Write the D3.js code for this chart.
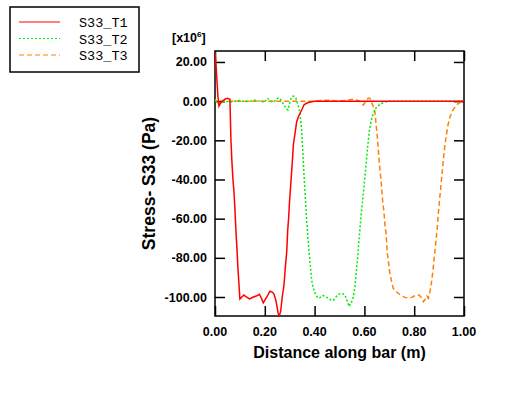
<!DOCTYPE html>
<html>
<head>
<meta charset="utf-8">
<script src="https://cdn.jsdelivr.net/npm/d3@7"></script>
<style>
    body { margin: 0; background: #fff; }
    svg { display: block; }
    .tick-label { font-family: "Liberation Sans", Arial, sans-serif; font-weight: bold; font-size: 12.5px; }
    .titulo { font-family: "Liberation Sans", Arial, sans-serif; font-weight: bold; font-size: 16px; }
    .legenda { font-family: "Liberation Mono", "DejaVu Sans Mono", monospace; font-size: 13.5px; }
</style>
</head>
<body>
<div id="grafico"></div>
<script>
// Valores em x10^6 Pa
const xT1 = [0, 0.004, 0.008, 0.012, 0.016, 0.02, 0.03, 0.04, 0.05, 0.06, 0.064, 0.068, 0.072, 0.076, 0.08, 0.084, 0.088, 0.092, 0.096, 0.1, 0.108, 0.116, 0.126, 0.138, 0.146, 0.154, 0.166, 0.178, 0.186, 0.194, 0.208, 0.221, 0.23, 0.237, 0.243, 0.248, 0.253, 0.258, 0.264, 0.27, 0.277, 0.283, 0.288, 0.292, 0.296, 0.3, 0.304, 0.31, 0.315, 0.322, 0.328, 0.335, 0.341, 0.35, 0.357, 0.366, 0.375, 0.39, 0.4, 0.5, 0.6, 0.7, 0.8, 0.9, 1.0];
const yT1 = [25, 19, 10, 2, -2.5, -1.5, 0, 1, 1.5, 1, -20, -31, -40, -46, -55, -66, -75, -85, -93, -101, -100, -99, -100, -101, -100.5, -100, -99.5, -98.6, -100.5, -103, -100, -97, -97.5, -98.5, -101, -104, -108, -110, -107, -100, -94, -84, -77, -66, -59, -50, -43, -32, -22, -16, -10.5, -8, -6.3, -4, -2, -1.2, -0.7, -0.3, 0, 0, 0, 0, 0, 0, 0];

const xT2 = [0, 0.02, 0.04, 0.06, 0.08, 0.1, 0.12, 0.14, 0.16, 0.18, 0.2, 0.21, 0.22, 0.23, 0.24, 0.25, 0.26, 0.27, 0.28, 0.287, 0.293, 0.3, 0.306, 0.312, 0.318, 0.325, 0.331, 0.336, 0.341, 0.348, 0.355, 0.361, 0.368, 0.375, 0.382, 0.388, 0.395, 0.402, 0.41, 0.419, 0.428, 0.435, 0.445, 0.455, 0.465, 0.475, 0.482, 0.489, 0.498, 0.509, 0.516, 0.522, 0.529, 0.535, 0.539, 0.546, 0.553, 0.558, 0.562, 0.566, 0.569, 0.573, 0.576, 0.581, 0.585, 0.59, 0.596, 0.601, 0.606, 0.611, 0.616, 0.62, 0.625, 0.63, 0.636, 0.642, 0.649, 0.659, 0.669, 0.679, 0.689, 0.7, 0.8, 0.9, 1.0];
const yT2 = [0, -1, 0, -0.5, 0, 0.3, -0.3, 0, 0.5, 0, -0.5, 1.5, 0.5, -0.5, 0, 1.5, 1.5, -0.5, -2.5, -4, -4.5, -1, 1.5, 2.5, 2.5, 1.5, -1, -3, -6.3, -14.8, -31.8, -45.4, -60.7, -72.6, -82.8, -91.3, -95.5, -98.1, -100, -100.7, -99.5, -99.3, -100, -100.5, -101.5, -101.7, -100.5, -99.5, -98.5, -98.1, -98.5, -99, -101.5, -103.5, -104.9, -103, -101.5, -98, -94.7, -89, -84.5, -80, -74.3, -67, -60.7, -54, -47.1, -40, -33.5, -26, -19.9, -15, -11.4, -8.5, -6.3, -4.5, -2.9, -2, -1.2, -0.6, -0.3, 0, 0, 0, 0];

const xT3 = [0, 0.01, 0.02, 0.03, 0.05, 0.1, 0.15, 0.2, 0.25, 0.3, 0.35, 0.4, 0.45, 0.5, 0.53, 0.56, 0.58, 0.596, 0.605, 0.615, 0.622, 0.63, 0.636, 0.64, 0.643, 0.647, 0.652, 0.656, 0.66, 0.665, 0.669, 0.673, 0.679, 0.683, 0.687, 0.692, 0.696, 0.7, 0.703, 0.709, 0.716, 0.726, 0.736, 0.75, 0.763, 0.776, 0.79, 0.8, 0.81, 0.82, 0.83, 0.837, 0.845, 0.851, 0.857, 0.862, 0.867, 0.872, 0.877, 0.882, 0.888, 0.893, 0.897, 0.902, 0.907, 0.912, 0.917, 0.922, 0.928, 0.936, 0.944, 0.954, 0.964, 0.974, 0.984, 0.992, 1.0];
const yT3 = [1, -0.8, 0.3, 0, 0, 0, 0, 0, 0, 0, 0, 0, 0.5, 0, 0.5, 1, 0, -2, 0, 1.5, 1.5, -1, -2.9, -4, -6.3, -12, -18.2, -25, -31.8, -38, -43.7, -50.5, -57.3, -64.1, -67.5, -77.7, -81.1, -86, -88, -92, -95.6, -97, -98.1, -99.5, -100.2, -100.5, -100.2, -99.5, -99, -99, -100.5, -102.4, -101, -99.5, -100.7, -98, -94.7, -90, -84.5, -78, -70.9, -64, -57.3, -50, -43.7, -37, -30.1, -24, -18.2, -12, -8, -5, -2.9, -1.5, -0.7, -0.3, 0];

const nomesSeries = ["S33_T1", "S33_T2", "S33_T3"];
const xTicks = [0, 0.2, 0.4, 0.6, 0.8, 1.0];
const yTicks = [20, 0, -20, -40, -60, -80, -100];

const series = [
    { nome: nomesSeries[0], xs: xT1, ys: yT1, cor: "#ff0000", dash: null },
    { nome: nomesSeries[1], xs: xT2, ys: yT2, cor: "#00ee00", dash: "2,2" },
    { nome: nomesSeries[2], xs: xT3, ys: yT3, cor: "#ff8000", dash: "5,3" }
];

const width = 529;
const height = 397;
const esq = 215, dir = 464, topo = 51, base = 316;

const svg = d3.select("#grafico")
    .append("svg")
    .attr("width", width)
    .attr("height", height);

const x = d3.scaleLinear().domain([0, 1]).range([esq, dir]);
const y = d3.scaleLinear().domain([-109.7, 25.6]).range([base, topo]);

// Recorte da area do grafico
svg.append("clipPath").attr("id", "area")
    .append("rect")
    .attr("x", esq).attr("y", topo)
    .attr("width", dir - esq).attr("height", base - topo);

// Eixos com ticks para dentro
const eixoBase = d3.axisTop(x).tickValues(xTicks).tickSize(10).tickFormat("");
const eixoTopo = d3.axisBottom(x).tickValues(xTicks).tickSize(10).tickFormat("");
const eixoEsq = d3.axisRight(y).tickValues(yTicks).tickSize(10).tickFormat("");
const eixoDir = d3.axisLeft(y).tickValues(yTicks).tickSize(10).tickFormat("");

[
    [eixoBase, `translate(0,${base})`],
    [eixoTopo, `translate(0,${topo})`],
    [eixoEsq, `translate(${esq},0)`],
    [eixoDir, `translate(${dir},0)`]
].forEach(([eixo, t]) => {
    const g = svg.append("g").attr("transform", t).call(eixo);
    g.select(".domain").remove();
    g.selectAll("line").attr("stroke", "#000").attr("stroke-width", 1.5);
});

// Moldura
svg.append("rect")
    .attr("x", esq).attr("y", topo)
    .attr("width", dir - esq).attr("height", base - topo)
    .attr("fill", "none")
    .attr("stroke", "#000")
    .attr("stroke-width", 1.5);

// Rotulos dos ticks
svg.selectAll(".xlab")
    .data(xTicks)
    .enter()
    .append("text")
    .attr("class", "tick-label")
    .attr("x", d => x(d))
    .attr("y", 336)
    .attr("text-anchor", "middle")
    .text(d => d.toFixed(2));

svg.selectAll(".ylab")
    .data(yTicks)
    .enter()
    .append("text")
    .attr("class", "tick-label")
    .attr("x", 207)
    .attr("y", d => y(d) + 4.5)
    .attr("text-anchor", "end")
    .text(d => d.toFixed(2));

// Fator de escala
const fator = svg.append("text")
    .attr("class", "tick-label")
    .attr("x", 172)
    .attr("y", 42);
fator.append("tspan").text("[x10");
fator.append("tspan").attr("dy", -5).style("font-size", "8px").text("6");
fator.append("tspan").attr("dy", 5).text("]");

// Titulos
svg.append("text")
    .attr("class", "titulo")
    .attr("x", (esq + dir) / 2)
    .attr("y", 358)
    .attr("text-anchor", "middle")
    .text("Distance along bar (m)");

svg.append("text")
    .attr("class", "titulo")
    .style("font-size", "17.5px")
    .attr("transform", `translate(155,${(topo + base) / 2}) rotate(-90)`)
    .attr("text-anchor", "middle")
    .text("Stress- S33 (Pa)");

// Curvas
const linha = d3.line()
    .x(d => x(d[0]))
    .y(d => y(d[1]));

const grupoLinhas = svg.append("g").attr("clip-path", "url(#area)");

series.slice().reverse().forEach(s => {
    grupoLinhas.append("path")
        .datum(s.xs.map((v, i) => [v, s.ys[i]]))
        .attr("fill", "none")
        .attr("stroke", s.cor)
        .attr("stroke-width", 1.5)
        .attr("stroke-dasharray", s.dash)
        .attr("d", linha);
});

// Legenda
const leg = svg.append("g");
leg.append("rect")
    .attr("x", 10).attr("y", 7)
    .attr("width", 129).attr("height", 65)
    .attr("fill", "#fff")
    .attr("stroke", "#000")
    .attr("stroke-width", 1.5);

series.forEach((s, i) => {
    const ly = 22 + i * 16.5;
    leg.append("line")
        .attr("x1", 19).attr("x2", 60)
        .attr("y1", ly).attr("y2", ly)
        .attr("stroke", s.cor)
        .attr("stroke-width", 1.2)
        .attr("stroke-dasharray", s.dash);
    leg.append("text")
        .attr("class", "legenda")
        .attr("x", 79)
        .attr("y", ly + 5)
        .text(s.nome);
});
</script>
</body>
</html>
